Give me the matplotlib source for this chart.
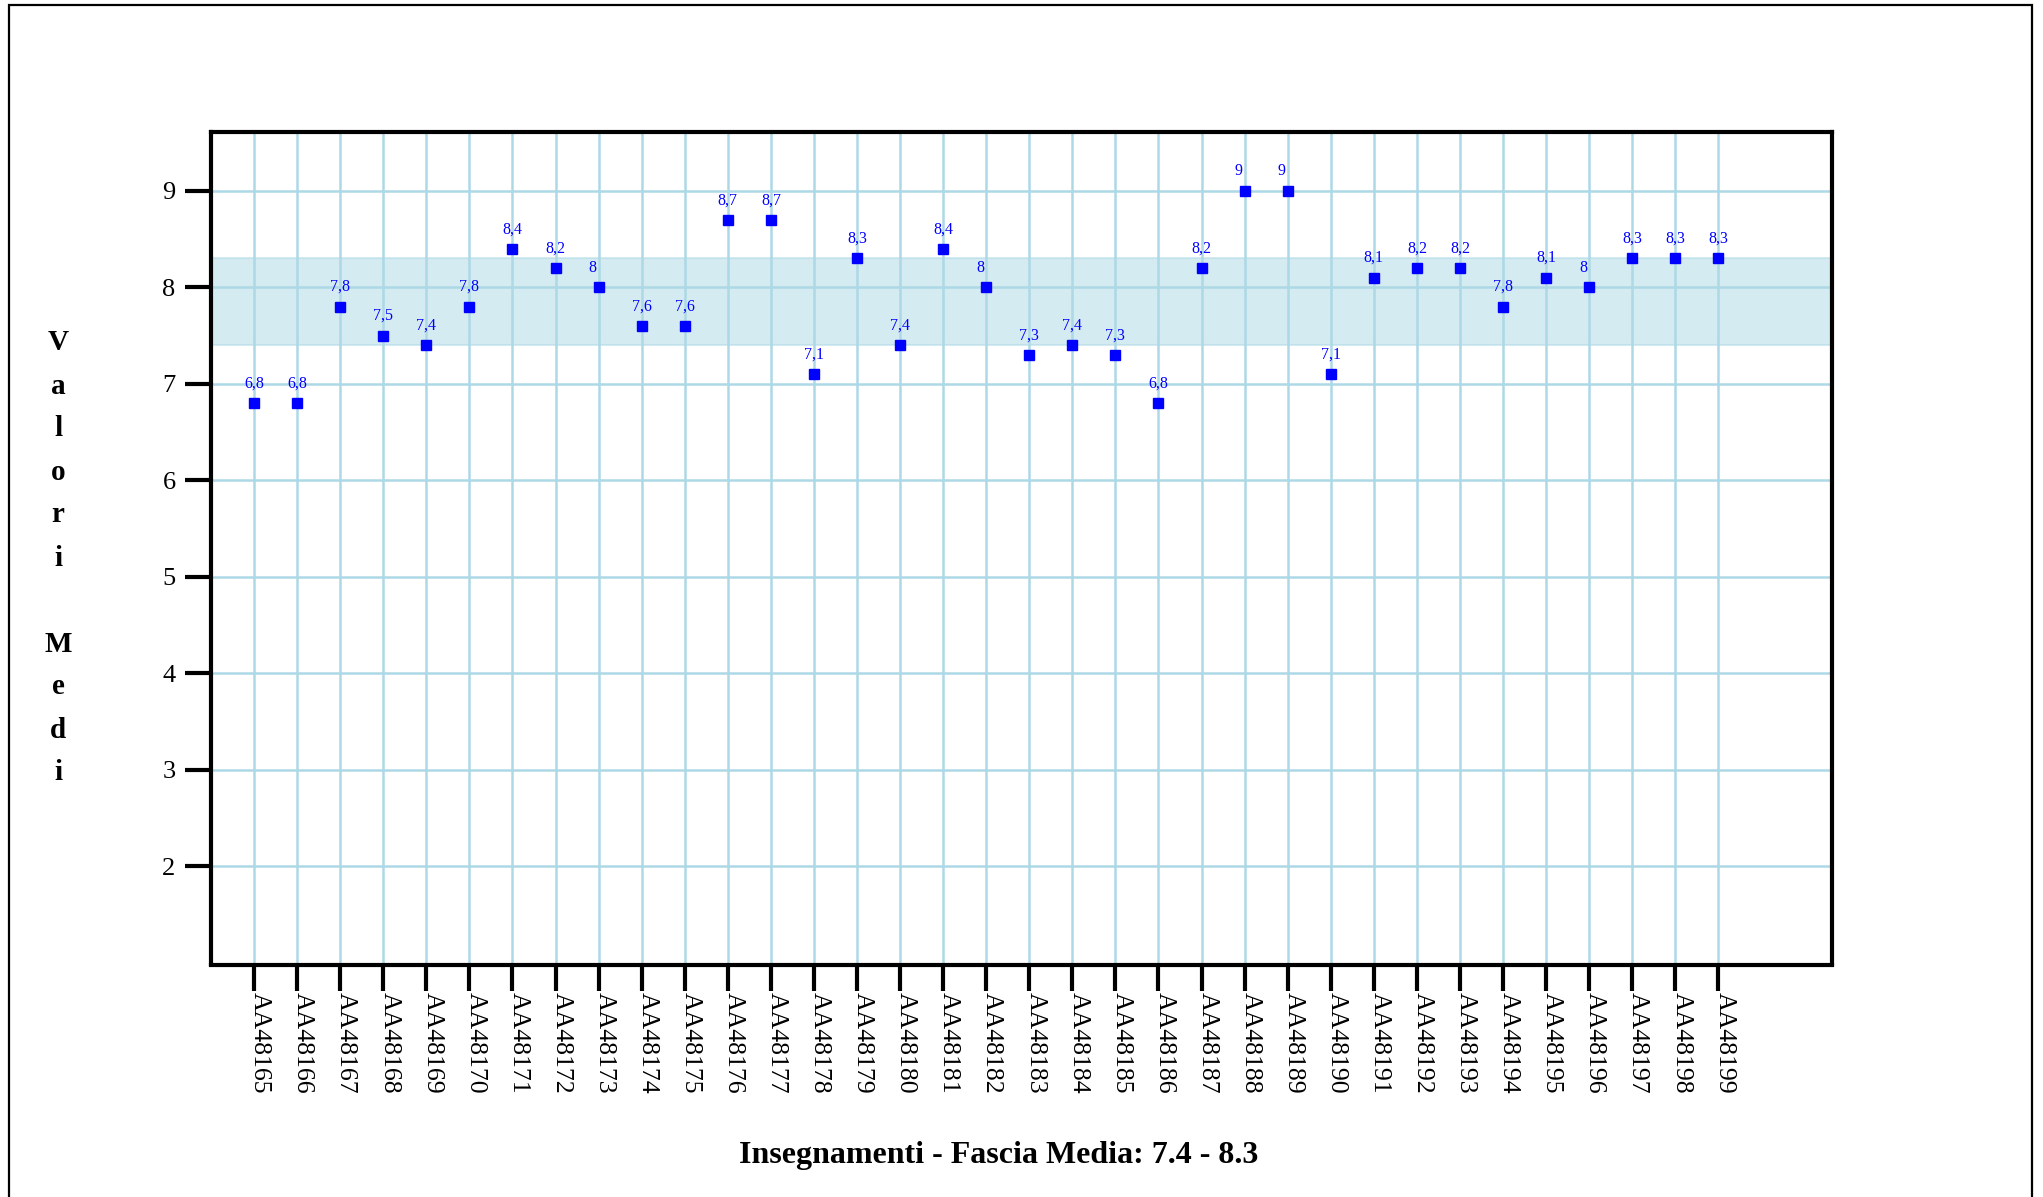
import matplotlib
matplotlib.use('Agg')
import matplotlib.pyplot as plt
from matplotlib.patches import Rectangle

# dati
codici = ['AA48165', 'AA48166', 'AA48167', 'AA48168', 'AA48169', 'AA48170', 'AA48171',
          'AA48172', 'AA48173', 'AA48174', 'AA48175', 'AA48176', 'AA48177', 'AA48178',
          'AA48179', 'AA48180', 'AA48181', 'AA48182', 'AA48183', 'AA48184', 'AA48185',
          'AA48186', 'AA48187', 'AA48188', 'AA48189', 'AA48190', 'AA48191', 'AA48192',
          'AA48193', 'AA48194', 'AA48195', 'AA48196', 'AA48197', 'AA48198', 'AA48199']
medie = [6.8, 6.8, 7.8, 7.5, 7.4, 7.8, 8.4,
         8.2, 8.0, 7.6, 7.6, 8.7, 8.7, 7.1,
         8.3, 7.4, 8.4, 8.0, 7.3, 7.4, 7.3,
         6.8, 8.2, 9.0, 9.0, 7.1, 8.1, 8.2,
         8.2, 7.8, 8.1, 8.0, 8.3, 8.3, 8.3]
yticks = [2, 3, 4, 5, 6, 7, 8, 9]
fascia_min, fascia_max = 7.4, 8.3
titolo = 'Insegnamenti - Fascia Media: 7.4 - 8.3'
etichetta_y = 'Valori Medi'

plt.rcParams['font.family'] = ['Liberation Serif', 'DejaVu Serif']

W, H = 2043, 1197
fig = plt.figure(figsize=(W / 100, H / 100), dpi=100)

# cornice esterna
fig.patches.append(Rectangle((9 / W, -0.05), (2032 - 9) / W, 1.05 - 5 / H,
                             transform=fig.transFigure, fill=False,
                             edgecolor='black', linewidth=1.6))

ax = fig.add_axes([211 / W, 1 - 964.5 / H, (1832.5 - 211) / W, (964.5 - 132) / H])

x = list(range(len(codici)))
griglia = '#ADD8E6'

# fascia media
ax.axhspan(fascia_min, fascia_max, facecolor=griglia, alpha=0.5,
           edgecolor=griglia, linewidth=1.5, zorder=0)
ax.grid(True, color=griglia, linewidth=1.8, zorder=1)
ax.set_axisbelow(True)

ax.plot(x, medie, linestyle='none', marker='s', markersize=6.5,
        color='#0000FF', zorder=3)
for xi, v in zip(x, medie):
    ax.annotate(f'{v:g}'.replace('.', ','), (xi, v), xytext=(-7.2, 11.2),
                textcoords='offset points', ha='left', va='baseline',
                fontsize=11.5, color='#0000FF')

ax.set_xlim(-1, 36.65)
ax.set_ylim(0.98, 9.61)
ax.set_yticks(yticks)
ax.set_yticklabels([str(t) for t in yticks], fontsize=19)
ax.set_xticks(x)
ax.set_xticklabels(codici, fontsize=18.5, rotation=270, rotation_mode='anchor',
                   ha='left', va='baseline')

ax.tick_params(axis='y', direction='out', length=18.5, width=3, pad=7)
ax.tick_params(axis='x', direction='out', length=18.5, width=3, pad=1.5)
for s in ax.spines.values():
    s.set_linewidth(3)
    s.set_color('black')

# etichetta asse y, una lettera per riga
y0, passo = 343, 43
riga = 0
for ch in etichetta_y:
    if ch != ' ':
        fig.text(58 / W, 1 - (y0 + riga * passo) / H, ch, ha='center', va='center',
                 fontsize=21, fontweight='bold')
    riga += 1

fig.text(999 / W, 1 - 1163 / H, titolo, ha='center', va='baseline',
         fontsize=23, fontweight='bold')

fig.savefig('out.png', dpi=100)
